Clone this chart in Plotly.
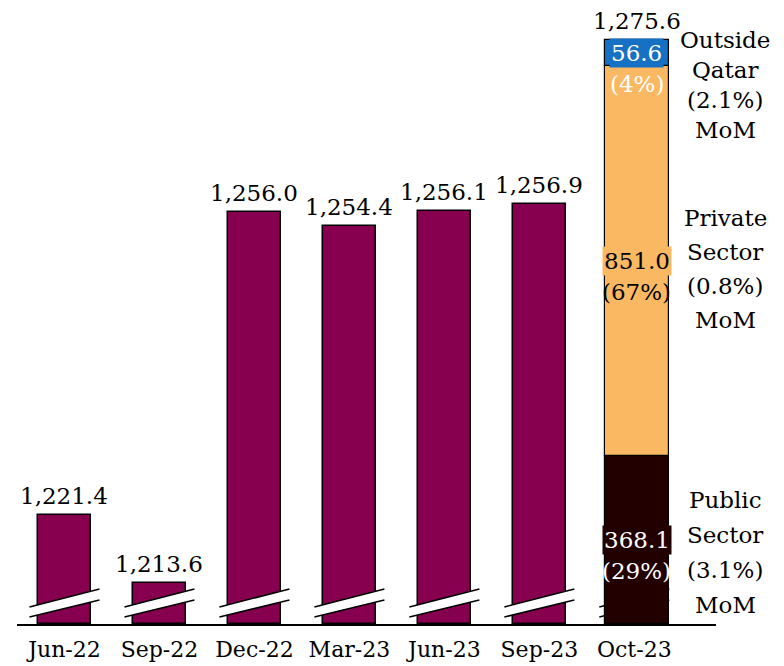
import plotly.graph_objects as go

# ---------------- data ----------------
categories = ["Jun-22", "Sep-22", "Dec-22", "Mar-23", "Jun-23", "Sep-23", "Oct-23"]
totals = [1221.4, 1213.6, 1256.0, 1254.4, 1256.1, 1256.9, 1275.6]
sectors = ["Public Sector", "Private Sector", "Outside Qatar"]
sector_values = [368.1, 851.0, 56.6]
sector_mom = [3.1, 0.8, 2.1]

# ---------------- style ----------------
FONT = "DejaVu Serif"
PURPLE = "#870050"
SECTOR_COLORS = ["#230000", "#FBB862", "#1670C4"]
SECTOR_TEXT = ["white", "black", "white"]
PCT_TEXT = ["white", "black", "white"]
Y_MIN = 1208.9          # axis floor (broken axis)
Y_MAX = 1277.9
PAGE_OFF = 8            # default body margin of the html page
W, H = 784 - PAGE_OFF, 666 - PAGE_OFF
ML, MR, MT, MB = 17 - PAGE_OFF, 68, 20 - PAGE_OFF, 42
X_RANGE = [-0.5, 6.86]
FS = 23

fig = go.Figure()

hist_x = categories[:-1]
hist_y = totals[:-1]
fig.add_trace(go.Bar(
    x=list(range(len(hist_x))), y=[v - Y_MIN for v in hist_y], base=Y_MIN,
    width=0.56, marker=dict(color=PURPLE, line=dict(color="black", width=1.5)),
    hoverinfo="skip", showlegend=False,
))

# Oct-23 stacked bar: segments scaled to their share of the visible range
last_idx = len(categories) - 1
last_total = totals[-1]
visible = last_total - Y_MIN
base = Y_MIN
seg_mid = []
LAST_W = 0.67
LAST_SHIFT = 0.026
for name, val, col in zip(sectors, sector_values, SECTOR_COLORS):
    h = val / last_total * visible
    fig.add_trace(go.Bar(
        x=[last_idx], y=[h], base=base, width=LAST_W, offset=-LAST_W / 2 + LAST_SHIFT,
        marker=dict(color=col, line=dict(color="black", width=1.2)),
        hoverinfo="skip", showlegend=False, name=name,
    ))
    seg_mid.append(base + h / 2)
    base += h

annotations = []
# total labels
for i, v in enumerate(totals):
    xi = i + (LAST_SHIFT if i == last_idx else 0)
    annotations.append(dict(
        x=xi, y=v, xref="x", yref="y", text=f"{v:,.1f}", showarrow=False,
        yanchor="bottom", yshift=4, font=dict(family=FONT, size=FS, color="black"),
    ))

# segment labels
for k, (val, mid) in enumerate(zip(sector_values, seg_mid)):
    pct = round(val / last_total * 100)
    annotations.append(dict(
        x=last_idx + LAST_SHIFT, y=mid, xref="x", yref="y", text=f"{val:,.1f}",
        showarrow=False, yanchor="middle", bgcolor=SECTOR_COLORS[k], borderpad=1,
        font=dict(family=FONT, size=FS, color=SECTOR_TEXT[k]),
    ))
    annotations.append(dict(
        x=last_idx + LAST_SHIFT, y=mid, xref="x", yref="y", text=f"({pct}%)",
        showarrow=False, yanchor="middle", yshift=-31,
        font=dict(family=FONT, size=FS, color=PCT_TEXT[k]),
    ))

# right-side sector descriptions (positions in screen pixels)
plot_w = W - ML - MR
plot_h = H - MT - MB
def px(pix):
    return (pix - PAGE_OFF - ML) / plot_w
def py(pix):
    return (H - MB - (pix - PAGE_OFF)) / plot_h

side_blocks = [
    (["Public", "Sector"], 500, 35),
    (["Private", "Sector"], 218, 34),
    (["Outside", "Qatar"], 40, 30),
]
for k, (words, top_pix, step) in enumerate(side_blocks):
    lines = words + [f"({sector_mom[k]}%)", "MoM"]
    for j, line in enumerate(lines):
        annotations.append(dict(
            x=px(725), y=py(top_pix + j * step),
            xref="paper", yref="paper", text=line, showarrow=False,
            xanchor="center", yanchor="middle",
            font=dict(family=FONT, size=FS, color="black"),
        ))

# axis-break marks
shapes = []
for i in range(len(categories)):
    layer = "below" if i == last_idx else "above"
    shapes.append(dict(
        type="path", xref="x", yref="y", xsizemode="pixel", ysizemode="pixel",
        xanchor=i, yanchor=Y_MIN,
        path="M -35,7 L 35,24 L 35,35 L -35,17 Z",
        fillcolor="white", line=dict(width=0), layer=layer,
    ))
    shapes.append(dict(
        type="path", xref="x", yref="y", xsizemode="pixel", ysizemode="pixel",
        xanchor=i, yanchor=Y_MIN,
        path="M -35,7 L 35,24 M -35,17 L 35,35",
        line=dict(color="black", width=1.5), layer=layer,
    ))

fig.update_layout(
    width=W, height=H,
    margin=dict(l=ML, r=MR, t=MT, b=MB),
    paper_bgcolor="white", plot_bgcolor="white",
    barmode="overlay", bargap=0,
    annotations=annotations, shapes=shapes,
    xaxis=dict(
        range=X_RANGE, tickmode="array", tickvals=list(range(len(categories))),
        ticktext=categories, showgrid=False, zeroline=False,
        showline=True, linecolor="black", linewidth=1.5, ticks="",
        ticklabelstandoff=5,
        tickfont=dict(family=FONT, size=22, color="black"),
        automargin=False, fixedrange=True,
    ),
    yaxis=dict(range=[Y_MIN, Y_MAX], visible=False, showgrid=False, fixedrange=True),
)

fig.write_html("out.html")
